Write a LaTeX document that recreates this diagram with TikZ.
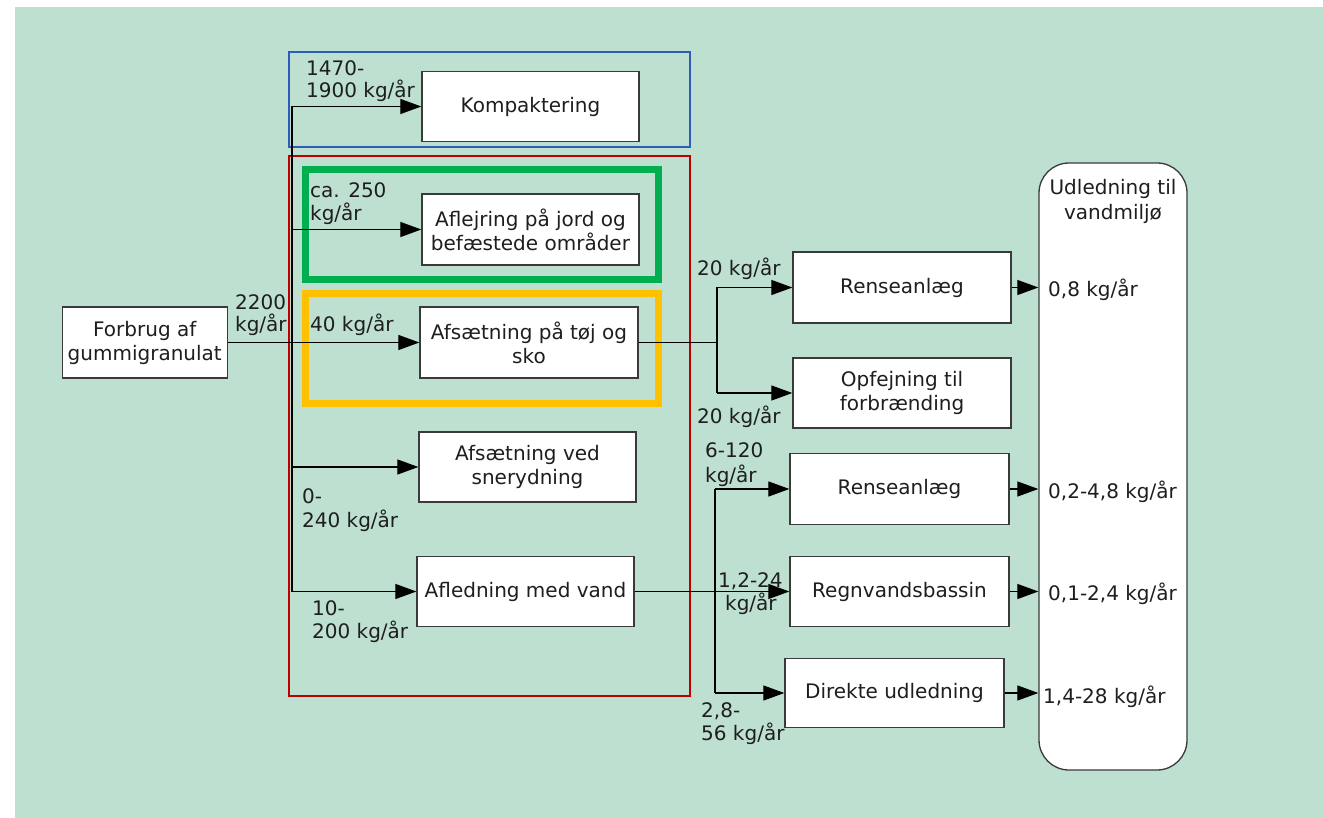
\documentclass[tikz,border=0pt]{standalone}
\usepackage{fontspec}
\setmainfont{DejaVu Sans}
\usetikzlibrary{arrows.meta}
\definecolor{bgc}{HTML}{BEE0D1}
\definecolor{bluec}{HTML}{2E5CB8}
\definecolor{redc}{HTML}{C00000}
\definecolor{greenc}{HTML}{00B050}
\definecolor{yellowc}{HTML}{FFC000}
\definecolor{txt}{HTML}{1E1E1E}
\definecolor{edgec}{HTML}{3A3A3A}
\begin{document}
\begin{tikzpicture}[x=1pt,y=-1pt,
  box/.style={draw=edgec, line width=1.3pt, fill=white, inner sep=0pt,
    align=center, font=\fontsize{20}{24}\selectfont, text=txt},
  lbl/.style={inner sep=0pt, anchor=base west, font=\fontsize{20}{24}\selectfont, text=txt},
  lblc/.style={inner sep=0pt, anchor=base, font=\fontsize{20}{24}\selectfont, text=txt},
  conn/.style={line width=1.2pt, draw=black},
  arr/.style={conn, -{Triangle[length=21pt,width=15pt]}}
]
\useasboundingbox (0,0) rectangle (1323,818);
\fill[bgc] (15,7) rectangle (1323,818);

% group frames
\draw[bluec, line width=2pt] (289,52) rectangle (690,147);
\draw[redc, line width=2.5pt] (289,156) rectangle (690,696);
\draw[greenc, line width=6.5pt] (305.5,169.5) rectangle (658.5,279.5);
\draw[yellowc, line width=6.5pt] (305.5,293.5) rectangle (658.5,403.5);

% boxes
\node[box, minimum width=165pt, minimum height=71pt] (forb) at (144.75,342.5) {Forbrug af\\gummigranulat};
\node[box, minimum width=217pt, minimum height=70pt] (komp) at (530.5,106.5) {Kompaktering};
\node[box, minimum width=217pt, minimum height=71pt] (aflej) at (530.5,229.5) {Aflejring på jord og\\befæstede områder};
\node[box, minimum width=218pt, minimum height=71pt] (toej) at (529,342.5) {Afsætning på tøj og\\sko};
\node[box, minimum width=217pt, minimum height=70pt] (sne) at (527.5,467) {Afsætning ved\\snerydning};
\node[box, minimum width=217pt, minimum height=70pt] (afled) at (525.5,591.5) {Afledning med vand};
\node[box, minimum width=218pt, minimum height=71pt] (rens1) at (902,287.5) {Renseanlæg};
\node[box, minimum width=218pt, minimum height=70pt] (opfej) at (902,393) {Opfejning til\\forbrænding};
\node[box, minimum width=219pt, minimum height=71pt] (rens2) at (899.5,489) {Renseanlæg};
\node[box, minimum width=219pt, minimum height=70pt] (regn) at (899.5,591.5) {Regnvandsbassin};
\node[box, minimum width=219pt, minimum height=69pt] (dir) at (894.5,693) {Direkte udledning};
\node[box, rounded corners=30pt, minimum width=148pt, minimum height=607pt] (udl) at (1113,466.5) {};

% trunk from Forbrug
\coordinate (tTop) at (292,106.5);
\coordinate (tBot) at (292,591.5);
\draw[conn] (forb.east) -- (forb.east -| tTop);
\draw[conn] (tTop) -- (tBot);
\draw[arr] (tTop) -- (komp.west);
\draw[arr] (aflej.west -| tTop) -- (aflej.west);
\draw[arr] (toej.west -| tTop) -- (toej.west);
\draw[arr] (sne.west -| tTop) -- (sne.west);
\draw[arr] (tBot) -- (afled.west);

% from Afsaetning paa toej
\coordinate (jA) at (717,342.5);
\draw[conn] (toej.east) -- (jA);
\draw[conn] (jA |- rens1.west) -- (jA |- opfej.west);
\draw[arr] (jA |- rens1.west) -- (rens1.west);
\draw[arr] (jA |- opfej.west) -- (opfej.west);

% from Afledning med vand
\coordinate (jB) at (715,591.5);
\draw[arr] (afled.east) -- (regn.west);
\draw[conn] (jB |- rens2.west) -- (jB |- dir.west);
\draw[arr] (jB |- rens2.west) -- (rens2.west);
\draw[arr] (jB |- dir.west) -- (dir.west);

% to Udledning
\draw[arr] (rens1.east) -- (rens1.east -| udl.west);
\draw[arr] (rens2.east) -- (rens2.east -| udl.west);
\draw[arr] (regn.east) -- (regn.east -| udl.west);
\draw[arr] (dir.east) -- (dir.east -| udl.west);

% labels
\node[lbl] (l1a) at (306,76) {1470-};
\node[lbl] (l1b) at (306,98) {1900 kg/år};
\node[lbl] (l2a) at (310,198) {ca. 250};
\node[lbl] (l2b) at (310,221) {kg/år};
\node[lbl] (l3a) at (235,310) {2200};
\node[lbl] (l3b) at (235,332) {kg/år};
\node[lbl] (l4) at (310,332) {40 kg/år};
\node[lbl] (l5a) at (302,503) {0-};
\node[lbl] (l5b) at (302,527) {240 kg/år};
\node[lbl] (l6a) at (312,615) {10-};
\node[lbl] (l6b) at (312,638) {200 kg/år};
\node[lbl] (l7) at (697,276) {20 kg/år};
\node[lbl] (l8) at (697,423) {20 kg/år};
\node[lbl] (l9a) at (705,457) {6-120};
\node[lbl] (l9b) at (705,482) {kg/år};
\node[lbl] (l10a) at (718,587) {1,2-24};
\node[lbl] (l10b) at (725,610) {kg/år};
\node[lbl] (l11a) at (701,717) {2,8-};
\node[lbl] (l11b) at (701,740) {56 kg/år};
\node[lblc] (u1) at (1113,195) {Udledning til};
\node[lblc] (u2) at (1113,220) {vandmiljø};
\node[lbl] (o1) at (1048,297) {0,8 kg/år};
\node[lbl] (o2) at (1048,498) {0,2-4,8 kg/år};
\node[lbl] (o3) at (1048,600) {0,1-2,4 kg/år};
\node[lbl] (o4) at (1043,703) {1,4-28 kg/år};
\end{tikzpicture}
\end{document}
